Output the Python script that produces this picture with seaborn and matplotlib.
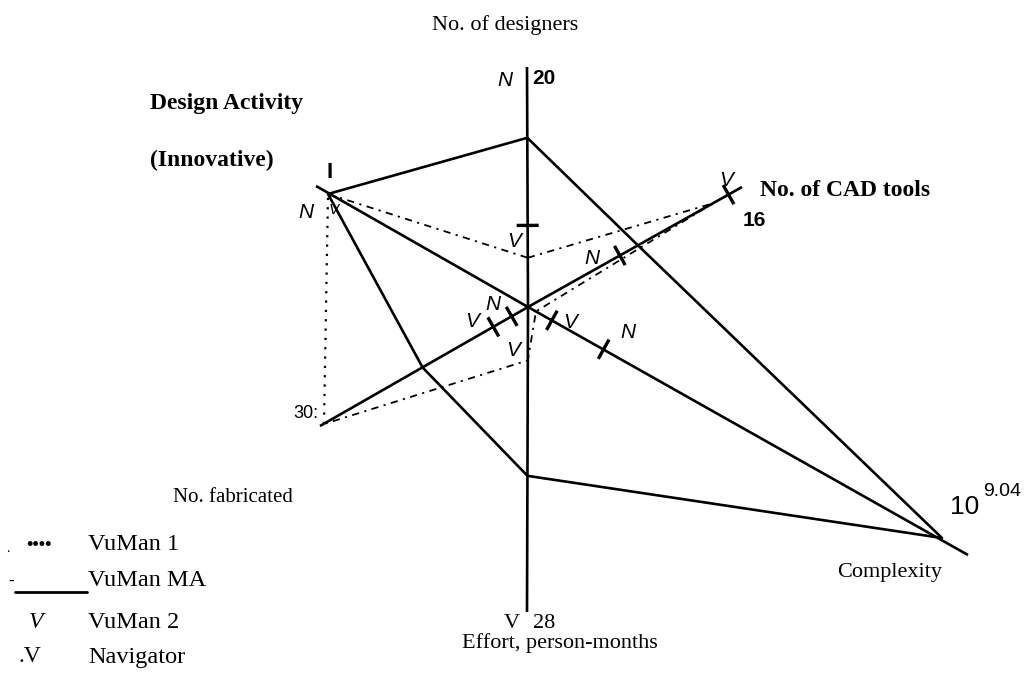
import numpy as np
import pandas as pd
import matplotlib
matplotlib.use("Agg")
import matplotlib.pyplot as plt
import seaborn as sns

# ---------------- data ----------------
axis_names = ["No. of designers", "No. of CAD tools", "Complexity",
              "Effort, person-months", "No. fabricated", "Design Activity"]
axis_min = [0, 0, 8.0, 0, 0, 0]
axis_max = [20, 16, 9.04, 28, 30, 1]          # complexity as log10
axis_max_labels = ["20", "16", "10", "28", "30", "I"]

vuman_ma = [14.1, 8.5, 9.04, 15.5, 15.5, 1.0]
vuman_1 = [4.1, 14.3, 8.02, 4.9, 30.0, 1.0]
vuman_2 = [6.8, 15.5, 8.06, 28.0, 5.1, 1.0]
navigator = [20.0, 7.1, 8.19, np.nan, 2.4, 1.0]

legend_labels = ["VuMan 1", "VuMan MA", "VuMan 2", "Navigator"]

# ---------------- layout (pixel space) ----------------
W, H = 1025, 675
C = np.array([528.0, 307.0])
AX_END = np.array([[527, 67], [735, 191], [942, 538],
                   [527, 612], [324, 424], [328, 194]], float)
AX_DRAW = np.array([[527, 67], [742, 187], [968, 555],
                    [527, 612], [320, 426], [316, 186]], float)


def pos(i, v):
    f = (v - axis_min[i]) / (axis_max[i] - axis_min[i])
    return C + (AX_END[i] - C) * f


def perp(i):
    d = AX_END[i] - C
    d = d / np.linalg.norm(d)
    return np.array([-d[1], d[0]])


sns.set_theme(style="white")
plt.rcParams["font.family"] = ["Liberation Serif", "DejaVu Serif"]

fig = plt.figure(figsize=(W / 100, H / 100), dpi=100)
ax = fig.add_axes([0, 0, 1, 1])
ax.set_xlim(0, W)
ax.set_ylim(H, 0)
ax.axis("off")

K = "black"
# axes lines
for i in range(6):
    ax.plot([C[0], AX_DRAW[i][0]], [C[1], AX_DRAW[i][1]], color=K, lw=1.9,
            solid_capstyle="butt")


def poly_df(vals):
    pts = [pos(i, v) for i, v in enumerate(vals)]
    pts.append(pts[0])
    return pd.DataFrame({"x": [p[0] for p in pts], "y": [p[1] for p in pts]})


df_ma = poly_df(vuman_ma)
sns.lineplot(data=df_ma, x="x", y="y", sort=False, color=K, lw=1.9, ax=ax,
             estimator=None)

df_1 = poly_df(vuman_1)
sns.lineplot(data=df_1.iloc[0:5], x="x", y="y", sort=False, color=K, lw=1.3,
             ax=ax, estimator=None, linestyle=(0, (4, 3, 1.2, 3)))
sns.lineplot(data=df_1.iloc[4:6], x="x", y="y", sort=False, color=K, lw=1.6,
             ax=ax, estimator=None, linestyle=(0, (1, 3.2)))
sns.lineplot(data=df_1.iloc[5:7], x="x", y="y", sort=False, color=K, lw=1.3,
             ax=ax, estimator=None, linestyle=(0, (4, 3, 1.2, 3)))


def tick(i, v, ln=22, lw=2.4):
    if np.isnan(v):
        return None
    p = pos(i, v)
    q = perp(i) * ln / 2
    ax.plot([p[0] - q[0], p[0] + q[0]], [p[1] - q[1], p[1] + q[1]],
            color=K, lw=lw, solid_capstyle="butt")
    return p


lab = dict(fontsize=15, style="italic", family=["Liberation Sans"],
           ha="center", va="center", color=K)
v_off = [(-14, 16), (-2, -14), (18, 2), None, (-21, -5), None]
n_off = [None, (-28, 3), (24, -17), None, (-19, -12), None]
for i in range(6):
    if v_off[i] is not None:
        p = tick(i, vuman_2[i])
        if p is not None:
            ax.text(p[0] + v_off[i][0], p[1] + v_off[i][1], "V", **lab)
    if n_off[i] is not None:
        p = tick(i, navigator[i])
        if p is not None:
            ax.text(p[0] + n_off[i][0], p[1] + n_off[i][1], "N", **lab)

ax.text(505, 80, "N", **lab)
ax.text(306, 212, "N", **lab)
ax.text(334, 210, "V", **{**lab, "fontsize": 11})
ax.text(513, 350, "V", **lab)

sans_b = dict(family=["Liberation Sans"], fontweight="bold", color=K)
ax.text(532, 78, axis_max_labels[0], fontsize=15, va="center", ha="left", **sans_b)
ax.text(743, 221, axis_max_labels[1], fontsize=15, va="center", ha="left", **sans_b)
ax.text(318, 414, axis_max_labels[4] + ":", fontsize=13, va="center", ha="right",
        family=["Liberation Sans"], color=K)
ax.text(330, 172, axis_max_labels[5], fontsize=16, va="center", ha="center", **sans_b)
ax.text(950, 507, axis_max_labels[2], fontsize=19, va="center", ha="left",
        family=["Liberation Sans"], color=K)
ax.text(983, 492, "9.04", fontsize=14, va="center", ha="left",
        family=["Liberation Sans"], color=K)
ax.text(520, 624, "V", fontsize=16, va="center", ha="right", color=K)
ax.text(533, 624, axis_max_labels[3], fontsize=16, va="center", ha="left", color=K)

serif = dict(color=K, va="center")
ax.text(505, 25, axis_names[0], fontsize=16, ha="center", **serif)
ax.text(760, 190, axis_names[1], fontsize=17, ha="left", fontweight="bold", **serif)
ax.text(942, 573, axis_names[2], fontsize=16, ha="right", **serif)
ax.text(560, 643, axis_names[3], fontsize=16, ha="center", **serif)
ax.text(233, 498, axis_names[4], fontsize=15, ha="center", **serif)
ax.text(150, 103, axis_names[5], fontsize=17, ha="left", fontweight="bold", **serif)
ax.text(150, 160, "(Innovative)", fontsize=17, ha="left", fontweight="bold", **serif)

# legend
ly = [545, 580, 623, 657]
ax.text(6, ly[0] + 3, ".", fontsize=10, ha="left", **serif)
ax.text(26, ly[0], "••••", fontsize=13, ha="left", fontweight="bold", **serif)
ax.text(8, ly[1] + 2, "-", fontsize=12, ha="left", fontweight="bold", **serif)
ax.plot([15, 87], [ly[1] + 12, ly[1] + 12], color=K, lw=2)
ax.text(36, ly[2], "V", fontsize=17, ha="center", style="italic", **serif)
ax.text(18, ly[3], ".V", fontsize=17, ha="left", **serif)
for yy, t in zip(ly, legend_labels):
    ax.text(88, yy, t, fontsize=17.5, ha="left", **serif)

fig.savefig("out.png", dpi=100)
